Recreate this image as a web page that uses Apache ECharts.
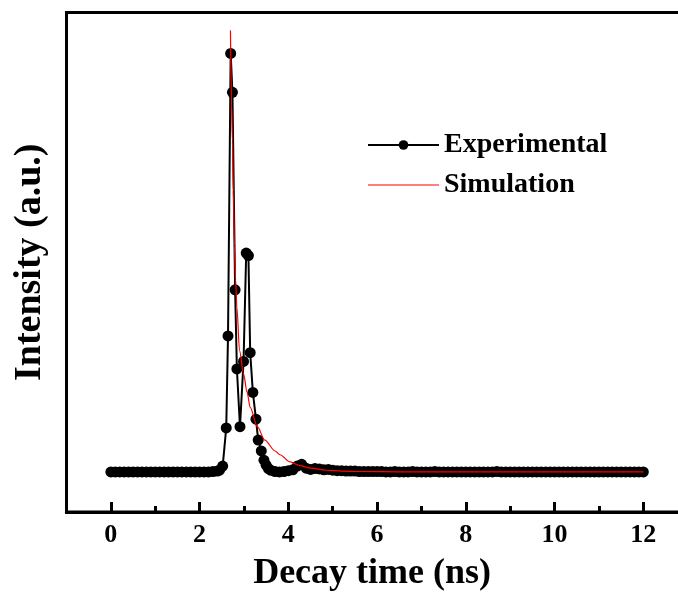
<!DOCTYPE html>
<html><head><meta charset="utf-8">
<script src="https://cdn.jsdelivr.net/npm/echarts@6/dist/echarts.min.js"></script>
<style>html,body{margin:0;padding:0;background:#fff}#c{width:678px;height:601px}</style>
</head><body><div id="c"></div>
<script>
// ---- data ----
const expTime = [
  0,0.1,0.2,0.3,0.4,0.5,0.6,0.7,0.8,0.9,1.0,1.1,1.2,1.3,1.4,1.5,1.6,1.7,1.8,1.9,2.0,2.1,2.2,2.3,2.4,2.45,
  2.52,2.60,2.64,2.70,2.74,2.80,2.84,2.91,2.99,3.05,3.10,3.14,3.20,3.27,3.32,3.39,3.45,3.50,3.55,
  3.6,3.7,3.8,3.9,4.0,4.1,4.2,4.3,4.4,4.5,4.6,4.7,4.8,4.9,5.0,5.1,5.2,5.3,5.4,5.5,5.6,5.7,5.8,5.9,6.0,
  6.1,6.2,6.3,6.4,6.5,6.6,6.7,6.8,6.9,7.0,7.1,7.2,7.3,7.4,7.5,7.6,7.7,7.8,7.9,8.0,
  8.1,8.2,8.3,8.4,8.5,8.6,8.7,8.8,8.9,9.0,9.1,9.2,9.3,9.4,9.5,9.6,9.7,9.8,9.9,10.0,
  10.1,10.2,10.3,10.4,10.5,10.6,10.7,10.8,10.9,11.0,11.1,11.2,11.3,11.4,11.5,11.6,11.7,11.8,11.9,12.0
];
const expIntensity = [
  0,0,0,0,0,0,0,0,0,0,0,0,0,0,0,0,0,0,0,0,0,0,0,0.001,0.002,0.004,
  0.014,0.105,0.325,1.0,0.907,0.435,0.246,0.108,0.264,0.523,0.517,0.285,0.19,0.126,0.076,0.05,0.028,0.016,0.008,
  0.004,0.001,0,0.001,0.003,0.005,0.014,0.018,0.009,0.006,0.008,0.007,0.005,0.006,0.004,0.003,0.003,0.002,0.002,0.002,0.001,0.001,0.001,0.001,0.001,
  0.001,0,0,0.001,0,0,0,0.001,0,0,0,0,0.001,0,0,0,0,0,0,0,
  0,0,0,0,0,0,0.001,0,0,0,0,0,0,0,0,0,0,0,0,0,
  0,0,0,0,0,0,0,0,0,0,0,0,0,0,0,0,0,0,0,0
];
const simTime = [2.695,2.72,2.74,2.76,2.785,2.81,2.84,2.9,2.99,3.07,3.14,3.3,3.47,3.7,3.81,4.04,4.26,4.5,4.86,5.2,5.6,6.5,8,10,12];
const simIntensity = [1.055,0.88,0.79,0.67,0.541,0.46,0.393,0.29,0.234,0.19,0.154,0.108,0.076,0.05,0.041,0.024,0.015,0.009,0.004,0.002,0.001,0,0,0,0];
const majorTicks = [0,2,4,6,8,10,12];
const minorTicks = [1,3,5,7,9,11];
const seriesNames = ['Experimental','Simulation'];

const FONT = "'Liberation Serif','Times New Roman',serif";
const expData = expTime.map((t,i)=>[t,expIntensity[i]]);
const simData = simTime.map((t,i)=>[t,simIntensity[i]]);
const box = {left:66.5, top:12.5, width:621.2, height:499.5};

const chart = echarts.init(document.getElementById('c'), null, {renderer:'canvas'});
chart.setOption({
  animation:false,
  backgroundColor:'#fff',
  grid:[
    Object.assign({show:true, borderColor:'#000', borderWidth:3, backgroundColor:'transparent', outerBoundsMode:'none'}, box),
    Object.assign({show:false, outerBoundsMode:'none'}, box)
  ],
  legend:{
    orient:'vertical', left:362, top:126, itemWidth:71, itemHeight:12, itemGap:12,
    textStyle:{fontFamily:FONT, fontWeight:'bold', fontSize:28, color:'#000'},
    data:[{name:seriesNames[0]},{name:seriesNames[1], icon:'path://M0,0 L142,0 L142,2.4 L0,2.4 Z'}]
  },
  xAxis:[{
    gridIndex:0, type:'value', min:-1, max:13, position:'bottom',
    axisLine:{show:true, onZero:false, lineStyle:{color:'#000', width:3}},
    axisTick:{show:true, inside:true, length:10, lineStyle:{color:'#000', width:3}, customValues:majorTicks},
    axisLabel:{show:true, customValues:majorTicks, fontFamily:FONT, fontWeight:'bold', fontSize:26, color:'#000', margin:10},
    splitLine:{show:false},
    name:'Decay time (ns)', nameLocation:'middle', nameGap:44,
    nameTextStyle:{fontFamily:FONT, fontWeight:'bold', fontSize:36, color:'#000', padding:[0,10,0,0]}
  },{
    gridIndex:1, type:'value', min:-1, max:13, position:'bottom',
    axisLine:{show:true, onZero:false, lineStyle:{color:'#000', width:3}},
    axisTick:{show:true, inside:true, length:6, lineStyle:{color:'#000', width:3}, customValues:minorTicks},
    axisLabel:{show:true, customValues:minorTicks, formatter:function(){return '';}},
    splitLine:{show:false}
  }],
  yAxis:[{
    gridIndex:0, type:'value', min:-0.0958, max:1.0977,
    axisLine:{show:true, onZero:false, lineStyle:{color:'#000', width:3}},
    axisTick:{show:false}, axisLabel:{show:false}, splitLine:{show:false},
    name:'Intensity (a.u.)', nameLocation:'middle', nameGap:17, nameRotate:90,
    nameTextStyle:{fontFamily:FONT, fontWeight:'bold', fontSize:38, color:'#000'}
  },{
    gridIndex:1, type:'value', min:0, max:1,
    axisLine:{show:false}, axisTick:{show:false}, axisLabel:{show:false}, splitLine:{show:false}
  }],
  series:[{
    name:seriesNames[0], type:'line', xAxisIndex:0, yAxisIndex:0, data:expData,
    symbol:'circle', symbolSize:11,
    itemStyle:{color:'#000'}, lineStyle:{color:'#000', width:2}, z:2
  },{
    name:seriesNames[1], type:'line', xAxisIndex:0, yAxisIndex:0, data:simData,
    symbol:'none', smooth:0.3, smoothMonotone:'x',
    itemStyle:{color:'#ff0000'}, lineStyle:{color:'#ff0000', width:1.2}, z:3
  }]
});
</script></body></html>
